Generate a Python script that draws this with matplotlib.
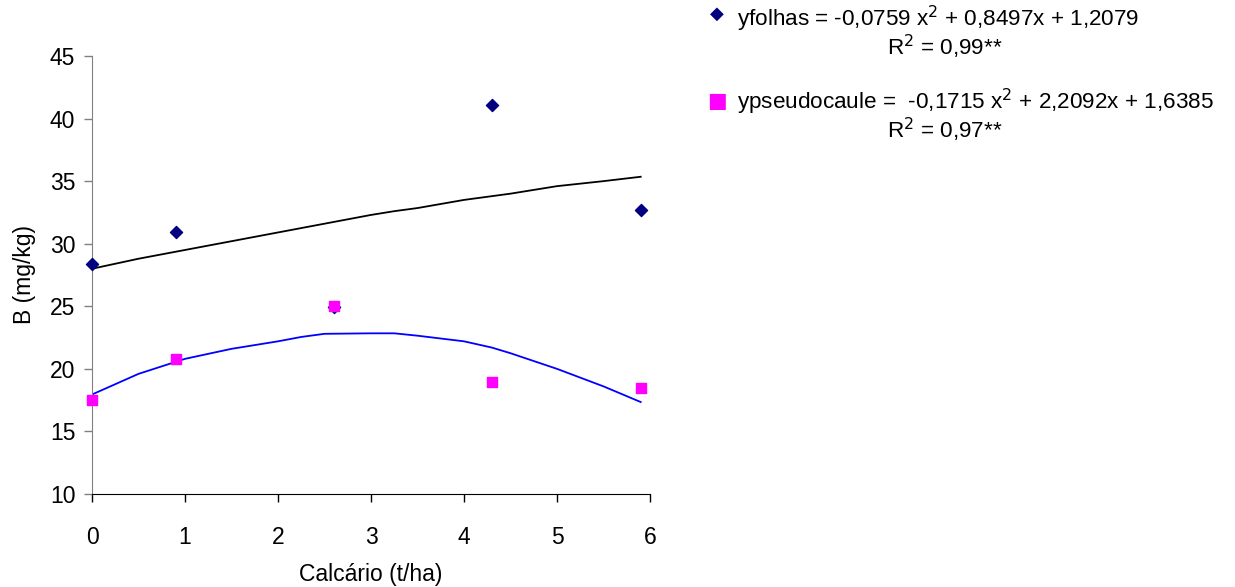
import matplotlib
matplotlib.use("Agg")
import matplotlib.pyplot as plt

plt.rcParams['font.family'] = ['Liberation Sans', 'DejaVu Sans']

# Observed data
calcario = [0, 0.9, 2.6, 4.3, 5.9]
folhas = [28.4, 30.9, 24.95, 41.1, 32.7]
pseudocaule = [17.55, 20.75, 25.05, 18.95, 18.45]

# Trend curves
curve_x = [0, 0.5, 1.0, 1.5, 2.0, 2.25, 2.5, 3.0, 3.25, 3.5, 4.0, 4.3, 4.5, 5.0, 5.5, 5.9]
curve_folhas = [28.0, 28.8, 29.5, 30.2, 30.9, 31.25, 31.6, 32.3, 32.6, 32.85, 33.5, 33.8, 34.0, 34.6, 35.0, 35.35]
curve_pseudo = [17.95, 19.6, 20.8, 21.6, 22.2, 22.55, 22.8, 22.84, 22.84, 22.65, 22.2, 21.7, 21.25, 20.0, 18.6, 17.35]

x_ticks = [0, 1, 2, 3, 4, 5, 6]
y_ticks = [10, 15, 20, 25, 30, 35, 40, 45]

eq_folhas = "yfolhas = -0,0759 x$^2$ + 0,8497x + 1,2079"
r2_folhas = "R$^2$ = 0,99**"
eq_pseudo = "ypseudocaule =  -0,1715 x$^2$ + 2,2092x + 1,6385"
r2_pseudo = "R$^2$ = 0,97**"

FS = 16.5
LFS = 16.2

fig = plt.figure(figsize=(12.35, 5.87), dpi=100)
ax = fig.add_axes([92/1235, 1 - 494/587, (650-92)/1235, (494-56)/587])

ax.plot(curve_x, curve_folhas, color='black', lw=1.3)
ax.plot(curve_x, curve_pseudo, color='#0000FF', lw=1.3)
ax.scatter(calcario, folhas, marker='D', s=38, color='#000080', zorder=3, clip_on=False)
ax.scatter(calcario, pseudocaule, marker='s', s=48, color='#FF00FF', zorder=4, clip_on=False)

ax.set_xlim(0, 6)
ax.set_ylim(10, 45)
ax.set_xticks(x_ticks)
ax.set_yticks(y_ticks)
ax.tick_params(axis='both', labelsize=FS, direction='out', length=6, width=1)
ax.tick_params(axis='y', colors='#808080', labelcolor='black', pad=6)
ax.tick_params(axis='x', pad=17)
for s in ['top', 'right']:
    ax.spines[s].set_visible(False)
ax.spines['left'].set_color('#808080')
ax.spines['bottom'].set_color('black')
ax.set_xlabel("Calcário (t/ha)", fontsize=FS, labelpad=10)
ax.set_ylabel("B (mg/kg)", fontsize=FS, labelpad=10)

# Legend-like annotations
fig.text(717/1235, 1 - 14/587, "\u25C6", color='#000080', fontsize=13, ha='center', va='center',
         family=['DejaVu Sans'])
fig.text(737/1235, 1 - 19/587, eq_folhas, fontsize=LFS, ha='left', va='center')
fig.text(945/1235, 1 - 47/587, r2_folhas, fontsize=LFS, ha='center', va='center')
fig.text(717/1235, 1 - 101/587, "\u25A0", color='#FF00FF', fontsize=15, ha='center', va='center',
         family=['DejaVu Sans'])
fig.text(737/1235, 1 - 102/587, eq_pseudo, fontsize=LFS, ha='left', va='center')
fig.text(945/1235, 1 - 130/587, r2_pseudo, fontsize=LFS, ha='center', va='center')

fig.savefig("out.png", dpi=100)
